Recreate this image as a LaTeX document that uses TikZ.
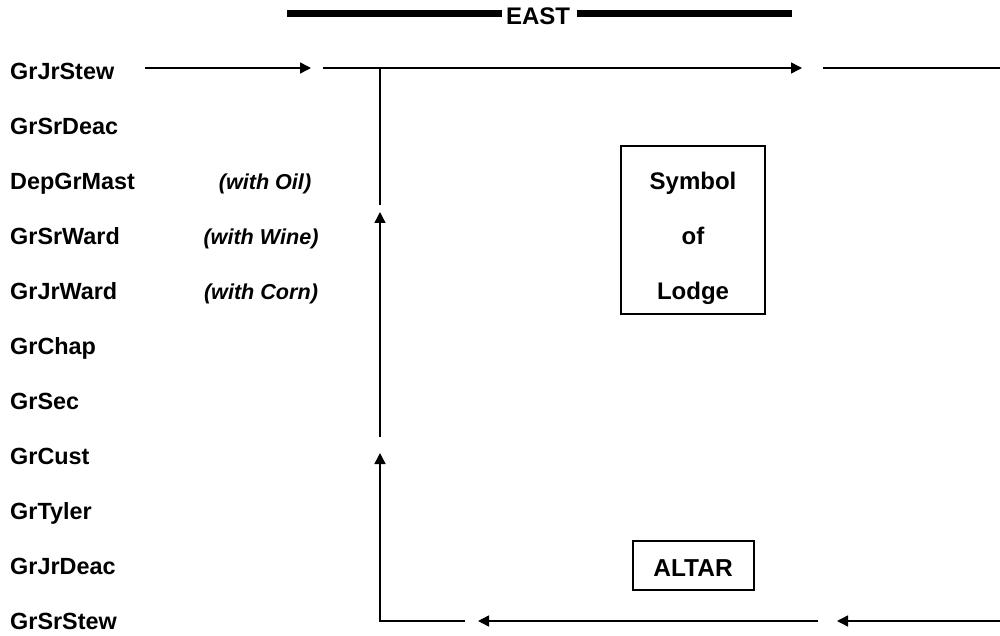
\documentclass[tikz,border=0pt]{standalone}
\usepackage{fontspec}
\setmainfont{Liberation Sans}
\usetikzlibrary{arrows.meta}
\begin{document}
\begin{tikzpicture}[x=1pt,y=-1pt,
  lbl/.style={font=\fontsize{23.4}{27}\selectfont\bfseries, inner sep=0pt, anchor=base west},
  note/.style={font=\fontsize{21.6}{25}\selectfont\bfseries\itshape, inner sep=0pt, anchor=base},
  ctr/.style={font=\fontsize{24}{28}\selectfont\bfseries, inner sep=0pt, anchor=base},
  flow/.style={line width=1.5pt, line join=miter},
  arr/.style={flow, -{Triangle[length=11pt,width=11pt]}},
  framebox/.style={draw, line width=1.5pt, inner sep=0pt},
  bar/.style={fill=black, draw=none}
]
\useasboundingbox (0,0) rectangle (1000,636);
% EAST header
\fill[bar] (287,10) rectangle (502,17);
\fill[bar] (577,10) rectangle (792,17);
\node[ctr] (east) at (538,24.2) {EAST};
% left labels
\node[lbl] (l1) at (10,79.5) {GrJrStew};
\node[lbl] (l2) at (10,134.5) {GrSrDeac};
\node[lbl] (l3) at (10,189.5) {DepGrMast};
\node[lbl] (l4) at (10,244.5) {GrSrWard};
\node[lbl] (l5) at (10,299.5) {GrJrWard};
\node[lbl] (l6) at (10,354.5) {GrChap};
\node[lbl] (l7) at (10,409.5) {GrSec};
\node[lbl] (l8) at (10,464.5) {GrCust};
\node[lbl] (l9) at (10,519.5) {GrTyler};
\node[lbl] (l10) at (10,574.5) {GrJrDeac};
\node[lbl] (l11) at (10,629.5) {GrSrStew};
% notes
\node[note] (n1) at (265,189.2) {(with Oil)};
\node[note] (n2) at (261,244.2) {(with Wine)};
\node[note] (n3) at (261,299.2) {(with Corn)};
% symbol box
\node[framebox, minimum width=144pt, minimum height=168pt] (sym) at (693,230) {};
\node[ctr] (s1) at (693,189.6) {Symbol};
\node[ctr] (s2) at (693,244.6) {of};
\node[ctr] (s3) at (693,299.6) {Lodge};
% altar
\node[framebox, minimum width=121pt, minimum height=49pt] (altar) at (693.5,565.5) {};
\node[ctr, font=\fontsize{24.5}{28}\selectfont\bfseries] (altartext) at (693,576.8) {ALTAR};
% path coordinates
\coordinate (t0) at (145,68);
\coordinate (t1) at (311,68);
\coordinate (t2) at (323,68);
\coordinate (tj) at (380,68);
\coordinate (t3) at (802,68);
\coordinate (t4) at (823,68);
\coordinate (t5) at (1000,68);
\coordinate (v1) at (380,205);
\coordinate (v2) at (380,437);
\coordinate (v2tip) at (380,212);
\coordinate (cr) at (380,621);
\coordinate (v3tip) at (380,453);
\coordinate (b0) at (1000,621);
\coordinate (b0tip) at (837,621);
\coordinate (b1) at (818,621);
\coordinate (b1tip) at (478,621);
\coordinate (b2) at (465,621);
% connectors
\draw[arr] (t0) -- (t1);
\draw[arr] (t2) -- (t3);
\draw[flow] (t4) -- (t5);
\draw[flow] (tj) -- (v1);
\draw[arr] (v2) -- (v2tip);
\draw[arr] (b2) -- (cr) -- (v3tip);
\draw[arr] (b1) -- (b1tip);
\draw[arr] (b0) -- (b0tip);
\end{tikzpicture}
\end{document}
